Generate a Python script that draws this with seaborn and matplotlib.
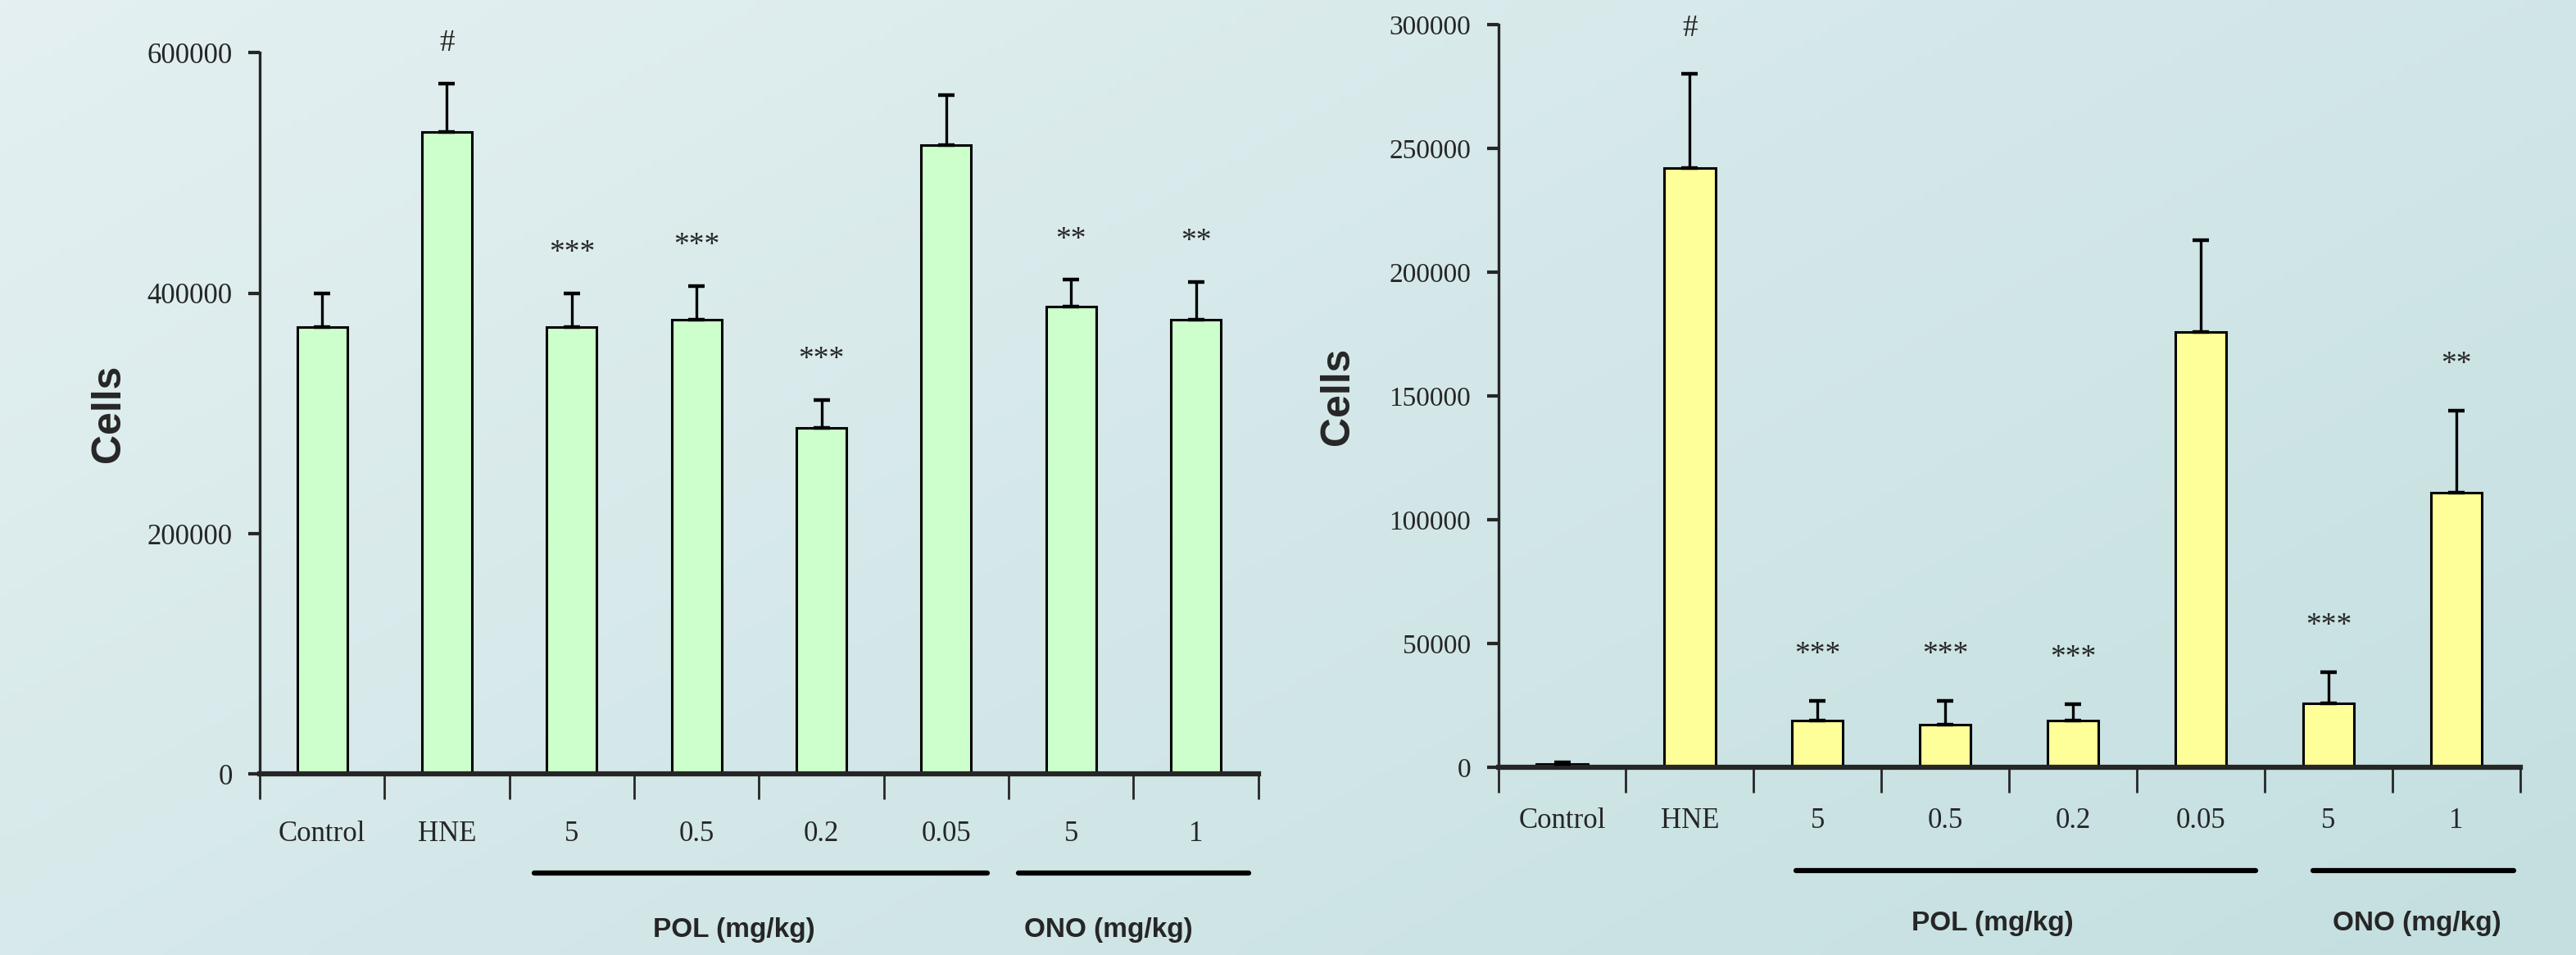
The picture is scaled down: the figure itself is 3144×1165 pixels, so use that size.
import numpy as np
import pandas as pd
import seaborn as sns
import matplotlib.pyplot as plt

# categories (unique keys) and displayed tick labels
groups = ["Control", "HNE", "POL 5", "POL 0.5", "POL 0.2", "POL 0.05", "ONO 5", "ONO 1"]
tick_labels = ["Control", "HNE", "5", "0.5", "0.2", "0.05", "5", "1"]

# left panel
left_mean = [372000, 534000, 372000, 378000, 288000, 523000, 389000, 378000]
left_err = [28000, 40000, 28000, 28000, 23000, 42000, 22000, 31000]
left_marks = ["", "#", "***", "***", "***", "", "**", "**"]

# right panel
right_mean = [1500, 242000, 19000, 17500, 19000, 176000, 26000, 111000]
right_err = [500, 38000, 8000, 9500, 6700, 37000, 12500, 33000]
right_marks = ["", "#", "***", "***", "***", "", "***", "**"]

sns.set_style("ticks")
plt.rcParams["font.family"] = ["Liberation Serif", "DejaVu Serif"]

fig = plt.figure(figsize=(31.44, 11.65), dpi=100)

# background gradient
bg = fig.add_axes([0, 0, 1, 1], zorder=-10)
gx, gy = np.meshgrid(np.linspace(0, 1, 300), np.linspace(0, 1, 120))
t = (gx * 0.6 + gy * 0.4)
c0 = np.array([228, 240, 241]) / 255
c1 = np.array([196, 223, 224]) / 255
img = c0[None, None, :] * (1 - t[..., None]) + c1[None, None, :] * t[..., None]
bg.imshow(img, aspect="auto", extent=[0, 1, 0, 1], origin="upper")
bg.axis("off")


def panel(rect, means, errs, marks, color, ymax, ystep, bracket_pol, bracket_ono,
          lab_pol, lab_ono, line_y, lab_y, label_pad, fs, ypad, mark_off):
    ax = fig.add_axes(rect)
    ax.patch.set_alpha(0)
    df = pd.DataFrame({"group": groups, "value": means})
    sns.barplot(data=df, x="group", y="value", order=groups, color=color,
                width=0.4, edgecolor="black", linewidth=2.2, saturation=1, ax=ax)
    x = np.arange(len(groups))
    ax.errorbar(x, means, yerr=[np.zeros(len(errs)), errs], fmt="none",
                ecolor="black", elinewidth=2.4, capsize=7, capthick=3.2, zorder=3)
    for xi, m, e, s in zip(x, means, errs, marks):
        if s:
            ax.annotate(s, (xi, m + e), xytext=(0, mark_off), textcoords="offset points",
                        ha="center", va="bottom", fontsize=27)
    ax.set_xlim(-0.5, len(groups) - 0.5)
    ax.set_ylim(0, ymax)
    ax.set_yticks(np.arange(0, ymax + 1, ystep))
    ax.set_yticklabels([str(int(v)) for v in np.arange(0, ymax + 1, ystep)], fontsize=fs)
    ax.set_xticks(np.arange(-0.5, len(groups)))
    ax.set_xticklabels([])
    ax.set_xticks(x, minor=True)
    ax.set_xticklabels(tick_labels, minor=True, fontsize=25)
    ax.tick_params(axis="x", which="major", length=22, width=2, direction="out")
    ax.tick_params(axis="x", which="minor", length=0, pad=label_pad)
    ax.tick_params(axis="y", length=10, width=3, pad=14)
    ax.set_xlabel("")
    ax.set_ylabel("Cells", fontsize=36, fontweight="bold", family="Liberation Sans",
                  labelpad=ypad)
    sns.despine(ax=ax)
    ax.spines["left"].set_linewidth(2.4)
    ax.spines["bottom"].set_linewidth(4.5)
    tr = ax.get_xaxis_transform()
    ax.plot(bracket_pol, [line_y, line_y], color="black", lw=4.5, transform=tr, clip_on=False)
    ax.plot(bracket_ono, [line_y, line_y], color="black", lw=4.5, transform=tr, clip_on=False)
    ax.text(lab_pol, lab_y, "POL (mg/kg)", transform=tr, ha="center", va="center",
            fontsize=24, fontweight="bold", family="Liberation Sans")
    ax.text(lab_ono, lab_y, "ONO (mg/kg)", transform=tr, ha="center", va="center",
            fontsize=24, fontweight="bold", family="Liberation Sans")
    return ax


panel([0.1008, 0.1893, 0.3877, 0.7556], left_mean, left_err, left_marks, "#ccffcc",
      600000, 200000, [1.70, 5.33], [5.58, 7.42], 3.30, 6.30, -0.137, -0.216, 41, 25,
      17, 23)
panel([0.5816, 0.1962, 0.3967, 0.7780], right_mean, right_err, right_marks, "#ffff99",
      300000, 50000, [1.83, 5.43], [5.88, 7.45], 3.37, 6.69, -0.139, -0.210, 35, 24,
      28, 28)

fig.savefig("out.png", dpi=100)
